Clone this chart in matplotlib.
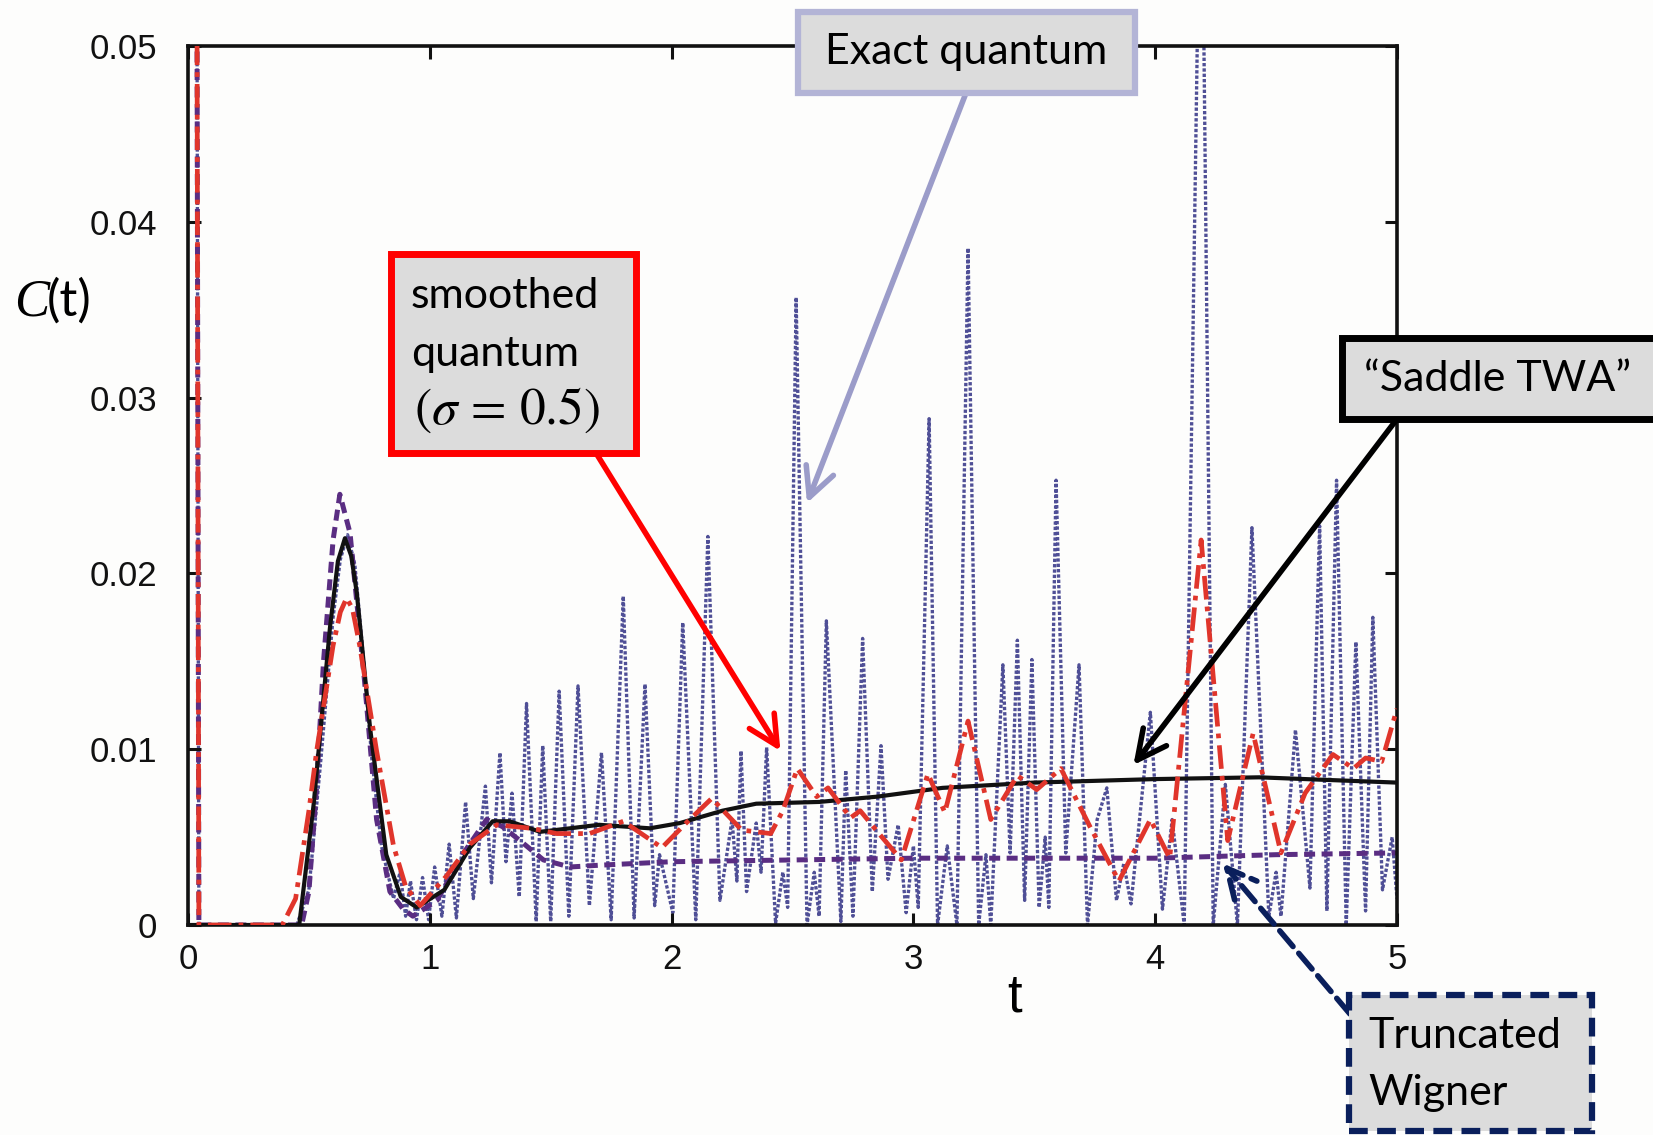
import matplotlib
matplotlib.use("Agg")
import matplotlib.pyplot as plt
from matplotlib.patches import Rectangle

plt.rcParams['mathtext.fontset'] = 'stix'

# "Exact quantum" (dotted): peaks and troughs
t_exact = [0.0, 0.036, 0.045, 0.45, 0.50, 0.55, 0.60, 0.63, 0.66, 0.69, 0.72, 0.76, 0.80, 0.85,
           0.877, 0.90, 0.92, 0.945, 0.97, 0.995, 1.02, 1.05, 1.08, 1.11, 1.148, 1.18,
           1.23, 1.255, 1.29, 1.315, 1.34, 1.37, 1.40, 1.44, 1.467, 1.50, 1.535, 1.575,
           1.613, 1.66, 1.71, 1.75, 1.80, 1.845, 1.89, 1.93, 1.95, 2.005, 2.046, 2.10,
           2.15, 2.20, 2.25, 2.27, 2.287, 2.31, 2.35, 2.37, 2.393, 2.43, 2.46, 2.48,
           2.515, 2.56, 2.59, 2.61, 2.64, 2.70, 2.72, 2.75, 2.79, 2.83, 2.866, 2.895,
           2.937, 2.97, 3.00, 3.02, 3.065, 3.10, 3.14, 3.18, 3.226, 3.27, 3.30, 3.32,
           3.37, 3.40, 3.43, 3.46, 3.49, 3.52, 3.545, 3.56, 3.59, 3.63, 3.685, 3.72,
           3.76, 3.80, 3.84, 3.87, 3.90, 3.98, 4.03, 4.07, 4.12, 4.19, 4.24, 4.29,
           4.34, 4.40, 4.47, 4.50, 4.52, 4.58, 4.64, 4.68, 4.71, 4.75, 4.79, 4.83,
           4.87, 4.90, 4.94, 4.98, 5.0]
c_exact = [0.5, 0.06, 0.0, 0.0, 0.002, 0.0095, 0.0175, 0.0208, 0.0222, 0.0205, 0.0160, 0.0095, 0.0045, 0.0015,
           0.0030, 0.0005, 0.0025, 0.0003, 0.0027, 0.0003, 0.0033, 0.0005, 0.0046, 0.0004, 0.0070, 0.0015,
           0.0079, 0.0024, 0.0098, 0.0036, 0.0075, 0.0016, 0.0126, 0.0002, 0.0102, 0.0002, 0.0133, 0.0005,
           0.0136, 0.0011, 0.0098, 0.0003, 0.0187, 0.0004, 0.0137, 0.0011, 0.0040, 0.0007, 0.0172, 0.0003,
           0.0221, 0.0014, 0.0060, 0.0025, 0.0099, 0.0019, 0.0058, 0.0030, 0.0101, 0.0001, 0.0030, 0.0010,
           0.0357, 0.0, 0.0030, 0.0005, 0.0173, 0.0002, 0.0088, 0.0005, 0.0163, 0.0019, 0.0102, 0.0026,
           0.0057, 0.0007, 0.0045, 0.0010, 0.0288, 0.0, 0.0045, 0.0, 0.0385, 0.0, 0.0040, 0.0,
           0.0148, 0.0041, 0.0162, 0.0014, 0.0151, 0.0010, 0.0050, 0.0010, 0.0253, 0.0041, 0.0148, 0.0,
           0.0060, 0.0078, 0.0014, 0.0035, 0.0012, 0.0121, 0.0009, 0.0060, 0.0, 0.065, 0.0, 0.0080,
           0.0, 0.0226, 0.0005, 0.0030, 0.0005, 0.0111, 0.0021, 0.0227, 0.0008, 0.0253, 0.0, 0.0161,
           0.0008, 0.0175, 0.0020, 0.0050, 0.0015]

# "smoothed quantum (sigma = 0.5)" (dash-dot)
t_smooth = [0.0, 0.036, 0.045, 0.39, 0.445, 0.50, 0.532, 0.60, 0.63, 0.656, 0.68, 0.71, 0.78, 0.85,
            0.90, 0.96, 1.07, 1.166, 1.277, 1.42, 1.525, 1.66, 1.80, 1.96, 2.06, 2.166,
            2.29, 2.41, 2.46, 2.52, 2.60, 2.647, 2.74, 2.78, 2.87, 2.95, 3.06, 3.13,
            3.226, 3.32, 3.43, 3.51, 3.61, 3.73, 3.85, 3.98, 4.06, 4.19, 4.30, 4.405,
            4.52, 4.62, 4.735, 4.82, 4.87, 4.937, 5.0]
c_smooth = [0.5, 0.06, 0.0, 0.0, 0.0015, 0.0065, 0.0099, 0.0159, 0.0178, 0.0186, 0.0180, 0.0159, 0.0099, 0.0045,
            0.0022, 0.0011, 0.0028, 0.0046, 0.0057, 0.0055, 0.0052, 0.0052, 0.0059, 0.0044, 0.0058, 0.0072,
            0.0054, 0.0052, 0.0065, 0.0089, 0.0073, 0.0078, 0.0061, 0.0065, 0.0050, 0.0037, 0.0086, 0.0064,
            0.0116, 0.0060, 0.0085, 0.0077, 0.0089, 0.0056, 0.0025, 0.0060, 0.0038, 0.0219, 0.0048, 0.0109,
            0.0041, 0.0075, 0.0097, 0.0089, 0.0095, 0.0093, 0.0123]

# "Saddle TWA" (solid)
t_saddle = [0.0, 0.46, 0.52, 0.587, 0.62, 0.649, 0.675, 0.698, 0.753, 0.82, 0.88, 0.946, 1.06, 1.166,
            1.26, 1.33, 1.456, 1.58, 1.70, 1.91, 2.035, 2.21, 2.35, 2.61, 2.85, 3.12,
            3.50, 4.0, 4.43, 5.0]
c_saddle = [0.0, 0.0, 0.0069, 0.0169, 0.0207, 0.0220, 0.0210, 0.0189, 0.0112, 0.0040, 0.0016, 0.0010, 0.0020, 0.0044,
            0.0059, 0.0059, 0.0053, 0.0055, 0.0057, 0.0055, 0.0058, 0.0065, 0.0069, 0.0070, 0.0073, 0.0078,
            0.0081, 0.0083, 0.0084, 0.0081]

# "Truncated Wigner" (dashed)
t_twa = [0.0, 0.036, 0.045, 0.47, 0.50, 0.532, 0.56, 0.60, 0.628, 0.67, 0.73, 0.78,
         0.835, 0.89, 0.93, 1.03, 1.14, 1.235, 1.30, 1.373, 1.47, 1.58, 1.70, 2.0,
         2.5, 3.0, 3.5, 4.0, 4.5, 5.0]
c_twa = [0.5, 0.06, 0.0, 0.0, 0.0019, 0.0079, 0.0149, 0.0219, 0.0245, 0.0223, 0.0139, 0.0060,
         0.0019, 0.0009, 0.0005, 0.0014, 0.0041, 0.0060, 0.0056, 0.0048, 0.0037, 0.0033, 0.0034, 0.0036,
         0.0037, 0.0038, 0.0038, 0.0038, 0.0040, 0.0041]

x_ticks = [0, 1, 2, 3, 4, 5]
y_ticks = [0, 0.01, 0.02, 0.03, 0.04, 0.05]
y_tick_labels = ["0", "0.01", "0.02", "0.03", "0.04", "0.05"]

W, H = 1653, 1135


def fx(px):
    return px / W


def fy(py):
    return 1 - py / H


fig = plt.figure(figsize=(W / 100, H / 100), dpi=100, facecolor='#fdfdfc')
ax = fig.add_axes([fx(188), fy(925), fx(1397) - fx(188), (925 - 46) / H])
ax.set_facecolor('#fdfdfc')

ax.plot(t_exact, c_exact, color='#4f4f96', lw=2.4, linestyle=(0, (1.0, 0.6)), zorder=1)
ax.plot(t_twa, c_twa, color='#5a2d82', lw=3.6, linestyle=(0, (2.2, 1.3)), zorder=2)
ax.plot(t_saddle, c_saddle, color='#111111', lw=3.0, zorder=3)
ax.plot(t_smooth, c_smooth, color='#e0352b', lw=3.4, linestyle=(0, (5, 1.5, 1, 1.5)), zorder=4)

ax.set_xlim(0, 5)
ax.set_ylim(0, 0.05)
ax.set_xticks(x_ticks)
ax.set_xticklabels([str(v) for v in x_ticks])
ax.set_yticks(y_ticks)
ax.set_yticklabels(y_tick_labels)
ax.tick_params(direction='in', length=9, width=2.2, top=True, right=True,
               labelsize=25, colors='#111111')
ax.tick_params(axis='y', pad=22)
ax.tick_params(axis='x', pad=13)
for lab in ax.get_xticklabels() + ax.get_yticklabels():
    lab.set_fontfamily('Liberation Sans')
for sp in ax.spines.values():
    sp.set_linewidth(2.6)
    sp.set_color('#111111')

# axis labels
fig.text(fx(14), fy(316), 'C', family='Liberation Serif', style='italic', size=38, va='baseline')
fig.text(fx(47), fy(316), '(t)', family='Lato', size=36, va='baseline')
fig.text(fx(1015), fy(1012), 't', family='Liberation Sans', size=38, ha='center', va='baseline')


def box(x0, y0, x1, y1, edge, lw, ls='-'):
    r = Rectangle((fx(x0), fy(y1)), (x1 - x0) / W, (y1 - y0) / H, transform=fig.transFigure,
                  facecolor='#dcdcdc', edgecolor=edge, lw=lw, linestyle=ls, zorder=10)
    fig.patches.append(r)


def arrow(x0, y0, t, c, color, lw, ls='-'):
    ax.annotate('', xy=(t, c), xycoords='data', xytext=(fx(x0), fy(y0)),
                textcoords='figure fraction', annotation_clip=False, zorder=9,
                arrowprops=dict(arrowstyle='->,head_length=0.7,head_width=0.35', color=color,
                                lw=lw, linestyle=ls, mutation_scale=30, shrinkA=0, shrinkB=0))


lab_font = dict(family='Lato', size=31, color='black', zorder=11)

# Exact quantum
arrow(966, 93, 2.56, 0.0240, '#9b9cc9', 4.0)
box(798, 12, 1135, 93, '#b3b4d6', 4.5)
fig.text(fx(966), fy(52), 'Exact quantum', ha='center', va='center', **lab_font)

# smoothed quantum
arrow(596, 453, 2.45, 0.0099, '#ff0000', 4.0)
box(391, 254, 636, 453, '#ff0000', 5.0)
fig.text(fx(411), fy(296), 'smoothed', ha='left', va='center', **lab_font)
fig.text(fx(411), fy(354), 'quantum', ha='left', va='center', **lab_font)
fig.text(fx(414), fy(410), r'$(\sigma\,=\,0.5)$', ha='left', va='center',
         family='Lato', size=37, color='black', zorder=11)

# Saddle TWA
arrow(1397, 419, 3.91, 0.0091, 'black', 4.0)
box(1342, 338, 1670, 419, 'black', 5.0)
fig.text(fx(1364), fy(379), '\u201cSaddle TWA\u201d', ha='left', va='center', **lab_font)

# Truncated Wigner
arrow(1350, 1014, 4.28, 0.0035, '#0a1f5c', 4.0, '--')
box(1349, 995, 1592, 1131, '#0a1f5c', 4.5, (0, (3, 1.5)))
fig.text(fx(1368), fy(1036), 'Truncated', ha='left', va='center', **lab_font)
fig.text(fx(1368), fy(1093), 'Wigner', ha='left', va='center', **lab_font)

fig.savefig('out.png', dpi=100, facecolor=fig.get_facecolor())
